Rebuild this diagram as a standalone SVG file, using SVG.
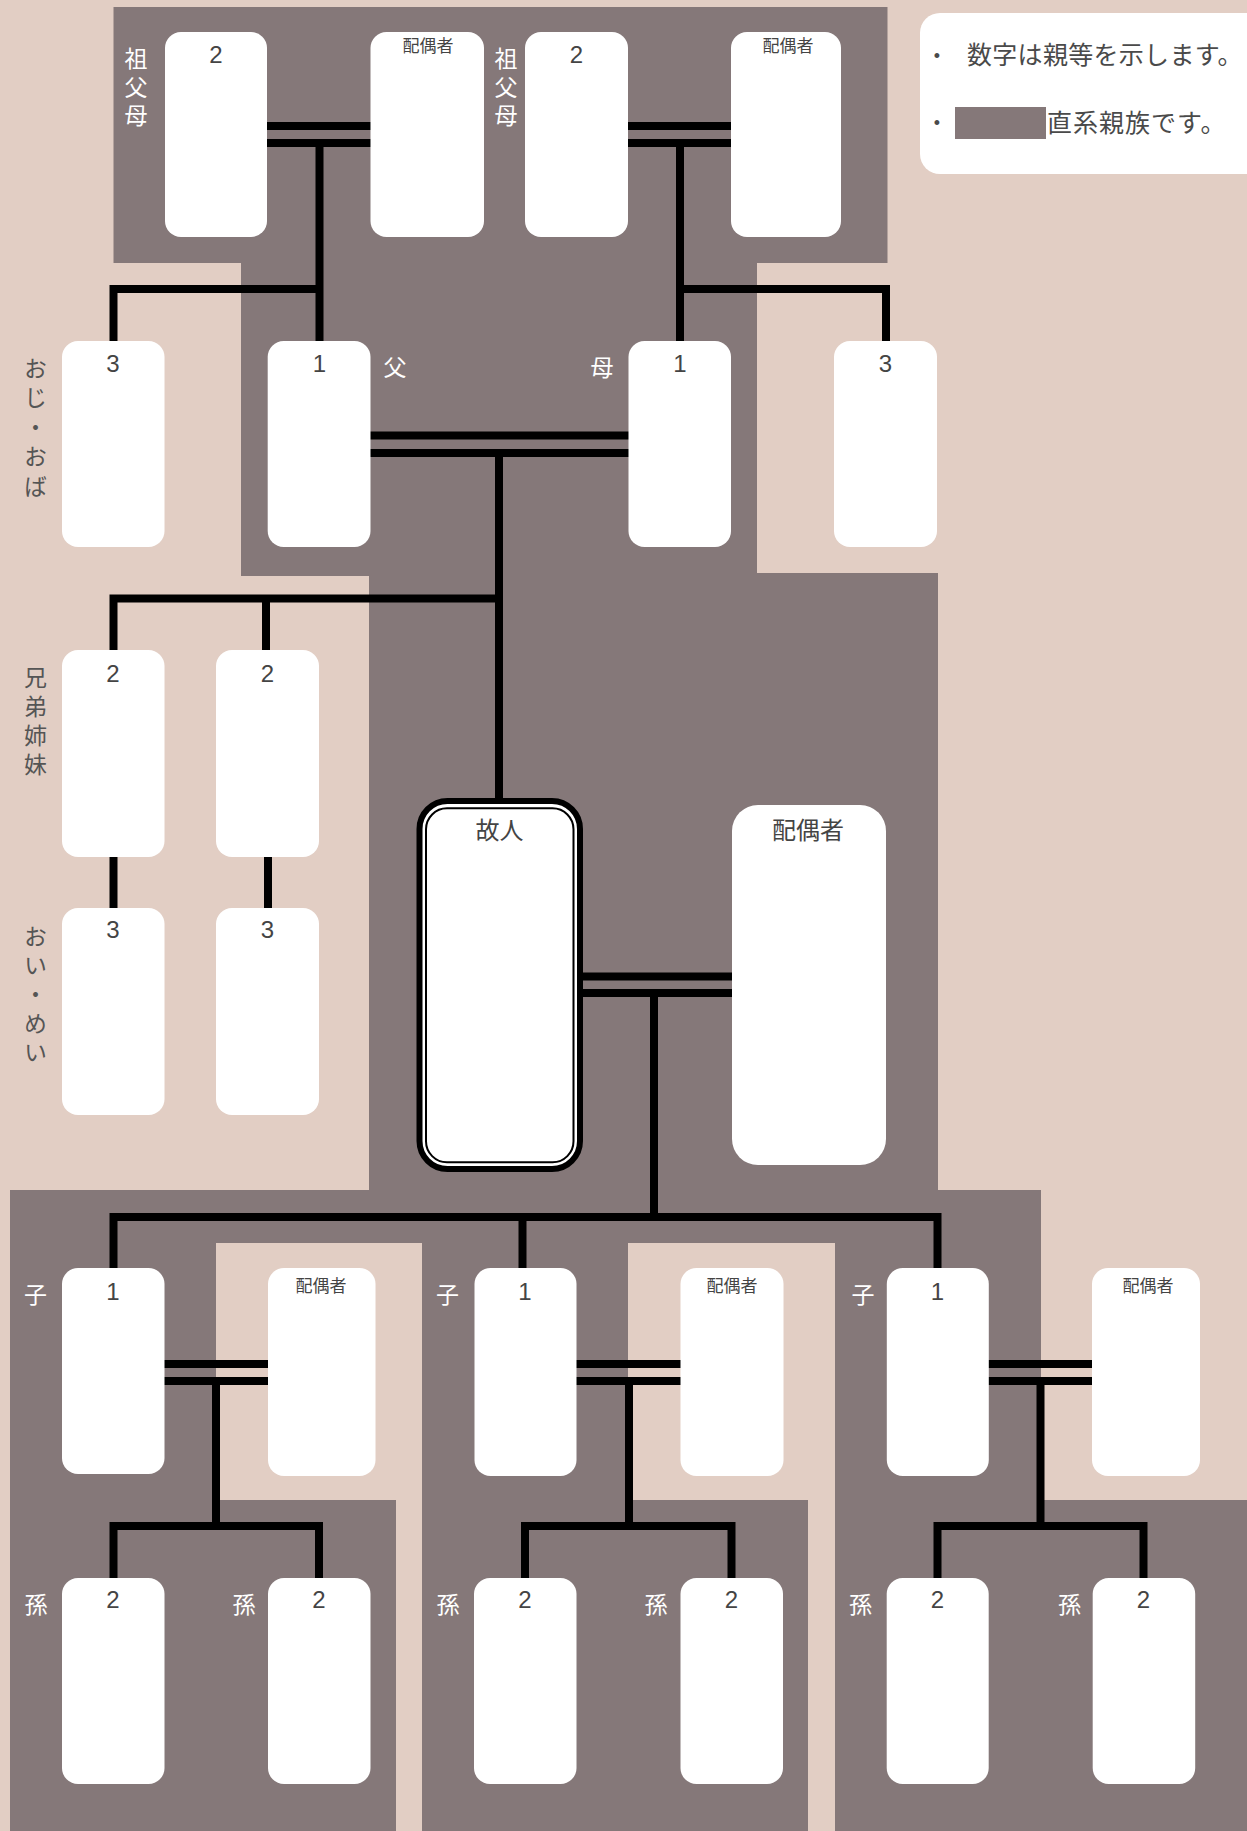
<svg xmlns="http://www.w3.org/2000/svg" width="1247" height="1831" viewBox="0 0 1247 1831">
<style>
.bg{fill:#e2cec4}
.dk{fill:#857879}
.box{fill:#ffffff}
.ln{fill:none;stroke:#000;stroke-width:8;stroke-linecap:butt;stroke-linejoin:miter}
.num{font-family:"Liberation Sans","Noto Sans CJK JP",sans-serif;font-size:24px;fill:#444;text-anchor:middle}
.sp{font-family:"Noto Sans CJK JP",sans-serif;font-size:17px;fill:#444;text-anchor:middle}
.sp2{font-family:"Noto Sans CJK JP",sans-serif;font-size:24px;fill:#444;text-anchor:middle}
.lw{font-family:"Noto Sans CJK JP",sans-serif;font-size:23px;fill:#fff;text-anchor:middle}
.lg{font-family:"Noto Sans CJK JP",sans-serif;font-size:23px;fill:#555;text-anchor:middle}
.vt{writing-mode:vertical-rl;text-anchor:start}
.leg{font-family:"Noto Sans CJK JP",sans-serif;font-size:25px;fill:#4a4a4a}
</style>
<g id="background">
<rect class="bg" x="0" y="0" width="1247" height="1831"/>
<rect class="dk" x="113.5" y="7" width="774" height="256"/>
<rect class="dk" x="241" y="262" width="516" height="314"/>
<rect class="dk" x="369" y="573" width="569" height="618"/>
<rect class="dk" x="10" y="1190" width="1031" height="641"/>
<rect class="bg" x="216" y="1243" width="206" height="257"/>
<rect class="bg" x="396" y="1499" width="26" height="332"/>
<rect class="bg" x="628" y="1243" width="207" height="257"/>
<rect class="bg" x="808" y="1499" width="27" height="332"/>
<rect class="dk" x="1040" y="1500" width="207" height="331"/>
</g>
<g id="legend">
<rect class="box" x="920" y="13" width="345" height="161" rx="20"/>
<text x="937" y="62" font-family="Liberation Sans,sans-serif" font-size="18" fill="#4a4a4a" text-anchor="middle">•</text>
<text class="leg" x="967" y="64" letter-spacing="0.3">数字は親等を示します。</text>
<text x="937" y="129" font-family="Liberation Sans,sans-serif" font-size="18" fill="#4a4a4a" text-anchor="middle">•</text>
<rect class="dk" x="955" y="107" width="91" height="32"/>
<text class="leg" x="1047" y="132" letter-spacing="1">直系親族です。</text>
</g>
<g id="connectors">
<path class="ln" d="M267 126H371M267 143H371"/>
<path class="ln" d="M319.5 143V341"/>
<path class="ln" d="M113.5 341V289H319.5"/>
<path class="ln" d="M628 126H731M628 143H731"/>
<path class="ln" d="M680 143V341"/>
<path class="ln" d="M680 289H886V341"/>
<path class="ln" d="M370 435.5H629M370 453H629"/>
<path class="ln" d="M499 453V799"/>
<path class="ln" d="M113.5 650V598.5H499"/>
<path class="ln" d="M266 598.5V650"/>
<path class="ln" d="M113.5 856V909"/>
<path class="ln" d="M268 856V909"/>
<path class="ln" d="M582 976.5H733M582 993H733"/>
<path class="ln" d="M654 993V1217"/>
<path class="ln" d="M113.5 1268V1217H937.5V1268"/>
<path class="ln" d="M522.5 1217V1268"/>
<path class="ln" d="M164 1364H269M164 1381H269"/>
<path class="ln" d="M216 1381V1526"/>
<path class="ln" d="M113.5 1578V1526H319V1578"/>
<path class="ln" d="M576 1364H681M576 1381H681"/>
<path class="ln" d="M629 1381V1526"/>
<path class="ln" d="M525 1578V1526H731.5V1578"/>
<path class="ln" d="M988 1364H1093M988 1381H1093"/>
<path class="ln" d="M1040.5 1381V1526"/>
<path class="ln" d="M937.5 1578V1526H1143.5V1578"/>
</g>
<g id="gp1">
<rect class="box" x="165" y="32" width="102" height="205" rx="16"/>
<text class="num" x="216" y="63">2</text>
<text class="lw vt" x="136" y="47" letter-spacing="5.5">祖父母</text>
</g>
<g id="gp1-spouse">
<rect class="box" x="370.5" y="32" width="113.5" height="205" rx="16"/>
<text class="sp" x="428" y="52">配偶者</text>
</g>
<g id="gp2">
<rect class="box" x="525" y="32" width="103" height="205" rx="16"/>
<text class="num" x="576.5" y="63">2</text>
<text class="lw vt" x="506" y="47" letter-spacing="5.5">祖父母</text>
</g>
<g id="gp2-spouse">
<rect class="box" x="731" y="32" width="110" height="205" rx="16"/>
<text class="sp" x="788" y="52">配偶者</text>
</g>
<g id="uncle1">
<rect class="box" x="62" y="341" width="102.5" height="206" rx="16"/>
<text class="num" x="113" y="372">3</text>
<text class="lg vt" x="35.5" y="356.5" letter-spacing="6.5">おじ・おば</text>
</g>
<g id="father">
<rect class="box" x="267.7" y="341" width="102.8" height="206" rx="16"/>
<text class="num" x="319.5" y="372">1</text>
<text class="lw" x="395" y="376">父</text>
</g>
<g id="mother">
<rect class="box" x="628.5" y="341" width="102.5" height="206" rx="16"/>
<text class="num" x="680" y="372">1</text>
<text class="lw" x="602" y="376">母</text>
</g>
<g id="uncle2">
<rect class="box" x="834" y="341" width="103" height="206" rx="16"/>
<text class="num" x="885.5" y="372">3</text>
</g>
<g id="sibling1">
<rect class="box" x="62" y="650" width="102.5" height="207" rx="16"/>
<text class="num" x="113" y="682">2</text>
<text class="lg vt" x="35.5" y="665.5" letter-spacing="6">兄弟姉妹</text>
</g>
<g id="sibling2">
<rect class="box" x="216" y="650" width="103" height="207" rx="16"/>
<text class="num" x="267.5" y="682">2</text>
</g>
<g id="nephew1">
<rect class="box" x="62" y="908" width="102.5" height="207" rx="16"/>
<text class="num" x="113" y="938">3</text>
<text class="lg vt" x="35.5" y="924.5" letter-spacing="6">おい・めい</text>
</g>
<g id="nephew2">
<rect class="box" x="216" y="908" width="103" height="207" rx="16"/>
<text class="num" x="267.5" y="938">3</text>
</g>
<g id="deceased">
<rect x="419.5" y="801" width="160.5" height="368" rx="28" fill="#fff" stroke="#000" stroke-width="6"/>
<rect x="426" y="808.3" width="147.5" height="354" rx="21" fill="none" stroke="#000" stroke-width="2"/>
<text class="sp2" x="499.5" y="839">故人</text>
</g>
<g id="spouse">
<rect class="box" x="732" y="805" width="154" height="360" rx="26"/>
<text class="sp2" x="808" y="839">配偶者</text>
</g>
<g id="child1">
<rect class="box" x="62" y="1268" width="102.5" height="206" rx="16"/>
<text class="num" x="113" y="1300">1</text>
<text class="lw" x="35.5" y="1303">子</text>
</g>
<g id="child1-spouse">
<rect class="box" x="268" y="1268" width="107.5" height="208" rx="16"/>
<text class="sp" x="321" y="1292">配偶者</text>
</g>
<g id="child2">
<rect class="box" x="474.5" y="1268" width="102" height="208" rx="16"/>
<text class="num" x="525" y="1300">1</text>
<text class="lw" x="447.5" y="1303">子</text>
</g>
<g id="child2-spouse">
<rect class="box" x="680.5" y="1268" width="103" height="208" rx="16"/>
<text class="sp" x="732" y="1292">配偶者</text>
</g>
<g id="child3">
<rect class="box" x="886.8" y="1268" width="102" height="208" rx="16"/>
<text class="num" x="937.5" y="1300">1</text>
<text class="lw" x="863" y="1303">子</text>
</g>
<g id="child3-spouse">
<rect class="box" x="1092" y="1268" width="108" height="208" rx="16"/>
<text class="sp" x="1148" y="1292">配偶者</text>
</g>
<g id="gc1">
<rect class="box" x="62" y="1578" width="102.5" height="206" rx="16"/>
<text class="num" x="113" y="1608">2</text>
<text class="lw" x="36" y="1613">孫</text>
</g>
<g id="gc2">
<rect class="box" x="268" y="1578" width="102.5" height="206" rx="16"/>
<text class="num" x="319" y="1608">2</text>
<text class="lw" x="244" y="1613">孫</text>
</g>
<g id="gc3">
<rect class="box" x="474" y="1578" width="102.5" height="206" rx="16"/>
<text class="num" x="525" y="1608">2</text>
<text class="lw" x="448" y="1613">孫</text>
</g>
<g id="gc4">
<rect class="box" x="680.5" y="1578" width="102.5" height="206" rx="16"/>
<text class="num" x="731.5" y="1608">2</text>
<text class="lw" x="656" y="1613">孫</text>
</g>
<g id="gc5">
<rect class="box" x="886.7" y="1578" width="102" height="206" rx="16"/>
<text class="num" x="937.5" y="1608">2</text>
<text class="lw" x="860.5" y="1613">孫</text>
</g>
<g id="gc6">
<rect class="box" x="1092.7" y="1578" width="102.5" height="206" rx="16"/>
<text class="num" x="1143.5" y="1608">2</text>
<text class="lw" x="1069.5" y="1613">孫</text>
</g>
</svg>
